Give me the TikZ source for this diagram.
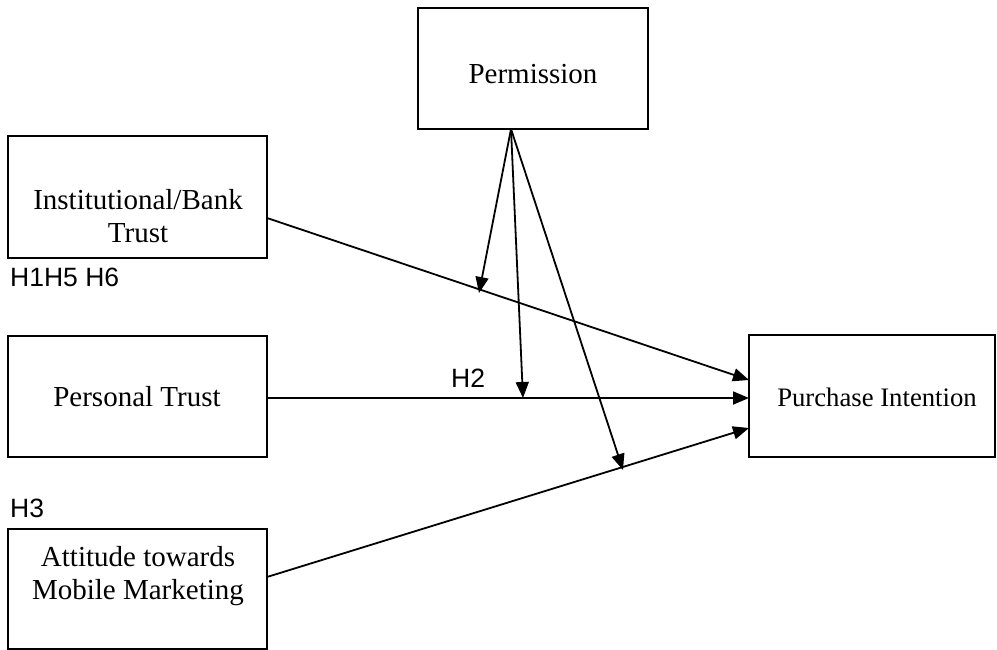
\documentclass[tikz,border=0pt]{standalone}
\usepackage{fontspec}
\setmainfont{Liberation Serif}
\newfontfamily\hfont{Liberation Sans}
\usetikzlibrary{arrows.meta}
\begin{document}
\begin{tikzpicture}[x=1pt,y=-1pt,
  box/.style={draw, line width=2pt, inner sep=0pt},
  lbl/.style={font=\fontsize{29}{33}\selectfont, align=center, inner sep=0pt},
  hyp/.style={font=\hfont\fontsize{26.5}{30}\selectfont, inner sep=0pt},
  conn/.style={line width=1.8pt, -{Triangle[length=16pt,width=13pt]}},
]
\useasboundingbox (0,0) rectangle (997,650);
% boxes
\node[box, minimum width=230pt, minimum height=121pt] (perm) at (533,68.5) {};
\node[box, minimum width=259pt, minimum height=122pt] (inst) at (137.5,197) {};
\node[box, minimum width=259pt, minimum height=121pt] (pers) at (137.5,396.5) {};
\node[box, minimum width=259pt, minimum height=120pt] (att) at (137.5,589) {};
\node[box, minimum width=246pt, minimum height=122pt] (pi) at (872,396) {};
% texts
\node[lbl] (permt) at (533,74) {Permission};
\node[lbl, anchor=base] (instt) at (138,243) {Institutional/Bank\\Trust};
\node[lbl] (perst) at (137,397) {Personal Trust};
\node[lbl, anchor=base] (attt) at (138,599) {Attitude towards\\Mobile Marketing};
\node[lbl, font=\fontsize{26.7}{32}\selectfont] (pit) at (877,397) {Purchase Intention};
% hypothesis labels
\node[hyp, anchor=base west] (h1) at (10,287) {H1H5 H6};
\node[hyp, anchor=base west] (h2) at (451,387) {H2};
\node[hyp, anchor=base west] (h3) at (10,517) {H3};
% connector end points
\coordinate (instout) at (267,218);
\coordinate (persout) at (267,398);
\coordinate (attout) at (267,577);
\coordinate (piin1) at (749,380);
\coordinate (piin2) at (749,398);
\coordinate (piin3) at (749,428);
\coordinate (permout) at (511,129);
\coordinate (m1) at (479,293);
\coordinate (m2) at (523,398);
\coordinate (m3) at (623,470);
% connectors
\draw[conn] (instout) -- (piin1);
\draw[conn] (persout) -- (piin2);
\draw[conn] (attout) -- (piin3);
\draw[conn] (permout) -- (m1);
\draw[conn] (permout) -- (m2);
\draw[conn] (permout) -- (m3);
\end{tikzpicture}
\end{document}
